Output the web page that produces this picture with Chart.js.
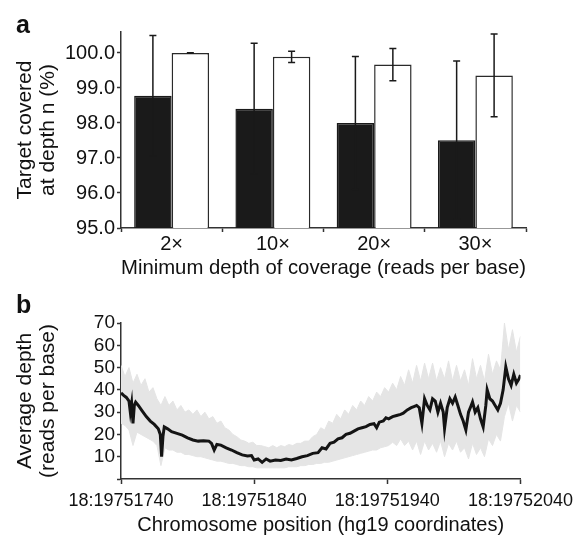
<!DOCTYPE html>
<html><head><meta charset="utf-8">
<script src="https://cdn.jsdelivr.net/npm/chart.js@4"></script>
<style>
html,body{margin:0;padding:0;background:#fff;}
#wrap{position:relative;width:579px;height:535px;overflow:hidden;background:#fff;}
.panel{position:absolute;left:0;}
.lab{position:absolute;font-family:"Liberation Sans",Arial,sans-serif;font-weight:bold;font-size:25px;color:#111;line-height:1;z-index:5;}
</style></head><body>
<div id="wrap">
<div class="panel" style="top:0;width:579px;height:280px"><canvas id="ca" width="579" height="280"></canvas></div>
<div class="panel" style="top:280px;width:579px;height:255px"><canvas id="cb" width="579" height="255"></canvas></div>
<div class="lab" style="left:16px;top:12px">a</div>
<div class="lab" style="left:16px;top:292px">b</div>
</div>
<script>
// ---- Panel a data ----
const categories = ['2×', '10×', '20×', '30×'];
const darkMeans = [98.78, 98.41, 98.00, 97.51];
const darkErrors = [1.72, 1.87, 1.90, 2.26];
const lightMeans = [100.00, 99.89, 99.67, 99.36];
const lightErrors = [0.01, 0.16, 0.46, 1.18];
const yTicksA = [95, 96, 97, 98, 99, 100];

// ---- Panel b data ----
const regionStart = 19751740;
const xTickValues = [19751740, 19751840, 19751940, 19752040];
const xTickLabels = ['18:19751740', '18:19751840', '18:19751940', '18:19752040'];
const yTicksB = [0, 10, 20, 30, 40, 50, 60, 70];

const meanOffsets = [0,2,4,6,7,8,9,10,11,13,16,19,22,25,28,29.5,30.5,31.5,32.5,35,38,42,46,50,54,58,62,66,68,70,72,75,79,83,87,91,95,98,100,103,106,109,112,116,120,124,128,132,136,140,144,148,151,154,157,160,163,166,169,172,175,178,181,184,187,190,192,194,197,199,201,204,207,210,212,215,218,220,222,224,226,228,230,232,234,236,238,240,242,243,245,247,249,251,253,255,257,259,261,263,264,266,268,270,272,274,275,277,279,281,283,285,287,289,291,293,295,297,299,300];
const meanDepth = [38.6,37.5,36.6,35,30,34,25,33,34.5,33,30.5,28,26,24.5,22.5,20,10,19,23.4,22.5,21.2,20.5,19.7,18.5,17.5,17,17.2,17,16,13,15.5,15.2,14,13,11.8,10.8,10.3,10.5,8.5,9,7.5,9,8,8.5,8.3,9,8.5,9.2,10,10.5,11.5,11.8,14,13.5,16,16.5,18,18.5,20,20.5,21.5,22.5,23,23.5,24.5,24.8,23,25.5,26,27.5,27,28,28.5,29,29.5,31,32,32.5,33,32,25,36,33,31,36,35,30,34,30,22.7,32,36,34,36.8,33,29,26,22,30,33,34.6,30,32,27,23.4,33,40,36,35,33,31,34,40,50.3,45,42,47,43,45,46.6];

const bandOffsets = [0,3,6,9,12,15,18,21,24,27,30,33,36,39,42,45,48,51,54,57,60,63,66,69,72,75,78,81,84,87,90,93,96,99,102,105,108,111,114,117,120,123,126,129,132,135,138,141,144,147,150,153,156,159,162,165,168,171,174,177,180,183,186,189,192,195,198,201,204,207,210,213,216,219,222,225,228,231,234,237,240,243,246,249,252,255,258,261,264,267,270,273,276,279,282,285,288,291,294,297,300];
const bandUpper = [51,46,50,43,47,42,45,39,41,36,33,37,33,35,31,33,30,31,29,31,28,30,27,28,25,26,23,22,20,19,17.5,17,16,16.5,15,15,14.5,14,15,14,15,14.5,15.5,15,16,16,17,17,19,20,23,22,26,25,29,27,31,29,33,31,35,33,37,35,39,37,41,39,43,40,46,42,49,43,51,44,52,45,52,44,50,45,53,44,51,44,49,42,54,45,51,44,56,47,53,49,70,58,67,57,64];
const bandLower = [25,24,22,15,21,20,19,18,17,15,6,14,13,13,12,12,11,11,10.5,10,10,9.5,9,8.5,8,8,7.5,7,7,6.5,6,6,5.5,5.5,5,5,5,5,5,5,5,5,5.5,5.5,5.5,6,6,6.5,6.5,7,7,7.5,7.5,8,8.5,9,9.5,10,10.5,11,11.5,12,12.5,13,13,14,14.5,15,16.5,15,18,15,17,13,17,11,17,13,16,12,17,10,16,13,17,12,14,9,16,11,14,10,18,15,20,17,28,34,26,33,30];

const FONT = '"Liberation Sans", Arial, Helvetica, sans-serif';
const AXIS = '#333333';
const TEXT = '#111111';
const DARK = '#1a1a1a';

const errorBarPlugin = {
  id: 'errorBars',
  afterDatasetsDraw(chart) {
    const ctx = chart.ctx, area = chart.chartArea, ys = chart.scales.y;
    chart.data.datasets.forEach((ds, i) => {
      if (!ds.errors) return;
      const meta = chart.getDatasetMeta(i);
      meta.data.forEach((bar, j) => {
        const v = ds.data[j], e = ds.errors[j];
        const x = bar.x;
        const yTop = ys.getPixelForValue(v + e);
        const yBot = Math.min(ys.getPixelForValue(v - e), area.bottom);
        ctx.save();
        ctx.strokeStyle = DARK;
        ctx.lineWidth = 1.5;
        ctx.beginPath();
        ctx.moveTo(x, yTop); ctx.lineTo(x, yBot);
        ctx.moveTo(x - 3.5, yTop); ctx.lineTo(x + 3.5, yTop);
        ctx.moveTo(x - 3.5, yBot); ctx.lineTo(x + 3.5, yBot);
        ctx.stroke();
        ctx.restore();
      });
    });
  }
};

new Chart(document.getElementById('ca'), {
  type: 'bar',
  data: {
    labels: categories,
    datasets: [
      { data: darkMeans, errors: darkErrors, backgroundColor: DARK, borderColor: DARK, borderWidth: 1.5 },
      { data: lightMeans, errors: lightErrors, backgroundColor: '#ffffff', borderColor: '#2a2a2a', borderWidth: 1.5 }
    ]
  },
  options: {
    responsive: false, animation: false, devicePixelRatio: 1,
    layout: { padding: { top: 32, right: 53, left: 0, bottom: 0 } },
    plugins: { legend: { display: false }, tooltip: { enabled: false } },
    datasets: { bar: { categoryPercentage: 0.74, barPercentage: 1.0 } },
    scales: {
      x: {
        grid: { display: true, drawOnChartArea: false, drawTicks: true, tickLength: 4, tickColor: AXIS, tickWidth: 1.5, offset: true },
        border: { display: true, color: AXIS, width: 1.5 },
        ticks: { color: TEXT, font: { family: FONT, size: 20 }, padding: 0 },
        title: { display: true, text: 'Minimum depth of coverage (reads per base)', color: TEXT, font: { family: FONT, size: 21, lineHeight: 1 }, padding: { top: 0, bottom: 1.5 } },
        afterFit(s) { s.height = 52; }
      },
      y: {
        min: 95, max: 100.6,
        afterBuildTicks(s) { s.ticks = yTicksA.map(v => ({ value: v })); },
        ticks: { callback: v => Number(v).toFixed(1), color: TEXT, font: { family: FONT, size: 20 }, padding: 2 },
        grid: { display: true, drawOnChartArea: false, drawTicks: true, tickLength: 4, tickColor: AXIS, tickWidth: 1.5 },
        border: { display: true, color: AXIS, width: 1.5 },
        title: { display: true, text: ['Target covered', 'at depth n (%)'], color: TEXT, font: { family: FONT, size: 21, lineHeight: 1.1 }, padding: { top: 13.5, bottom: 0 } },
        afterFit(s) { s.width = 121; }
      }
    }
  },
  plugins: [errorBarPlugin]
});

const toPts = (offs, vals) => offs.map((o, i) => ({ x: regionStart + o, y: vals[i] }));

new Chart(document.getElementById('cb'), {
  type: 'line',
  data: {
    datasets: [
      { data: toPts(meanOffsets, meanDepth), borderColor: '#141414', borderWidth: 3, pointRadius: 0, fill: false, tension: 0 },
      { data: toPts(bandOffsets, bandUpper), borderColor: '#e5e5e5', backgroundColor: '#e5e5e5', borderWidth: 1, pointRadius: 0, fill: '+1', tension: 0 },
      { data: toPts(bandOffsets, bandLower), borderColor: '#e5e5e5', borderWidth: 1, pointRadius: 0, fill: false, tension: 0 }
    ]
  },
  options: {
    responsive: false, animation: false, devicePixelRatio: 1,
    layout: { padding: { top: 43, right: 53, left: 0, bottom: 0 } },
    plugins: { legend: { display: false }, tooltip: { enabled: false } },
    scales: {
      x: {
        type: 'linear', min: xTickValues[0], max: xTickValues[xTickValues.length - 1],
        afterBuildTicks(s) { s.ticks = xTickValues.map(v => ({ value: v })); },
        ticks: { callback: (v) => xTickLabels[xTickValues.indexOf(v)], color: TEXT, font: { family: FONT, size: 18 }, padding: 6, maxRotation: 0, autoSkip: false },
        grid: { display: true, drawOnChartArea: false, drawTicks: true, tickLength: 5, tickColor: AXIS, tickWidth: 1.5 },
        border: { display: true, color: AXIS, width: 1.5 },
        title: { display: true, text: 'Chromosome position (hg19 coordinates)', color: TEXT, font: { family: FONT, size: 20, lineHeight: 0.95 }, padding: { top: 0, bottom: 0 } },
        afterFit(s) { s.height = 56; }
      },
      y: {
        min: 0, max: 70,
        afterBuildTicks(s) { s.ticks = yTicksB.map(v => ({ value: v })); },
        ticks: { callback: v => (v === 0 ? '' : String(v)), color: TEXT, font: { family: FONT, size: 19 }, padding: 2, autoSkip: false },
        grid: { display: true, drawOnChartArea: false, drawTicks: true, tickLength: 4, tickColor: AXIS, tickWidth: 1.5 },
        border: { display: true, color: AXIS, width: 1.5 },
        title: { display: true, text: ['Average depth', '(reads per base)'], color: TEXT, font: { family: FONT, size: 21, lineHeight: 1.1 }, padding: { top: 13.5, bottom: 0 } },
        afterFit(s) { s.width = 121; }
      }
    }
  }
});
</script>
</body></html>
